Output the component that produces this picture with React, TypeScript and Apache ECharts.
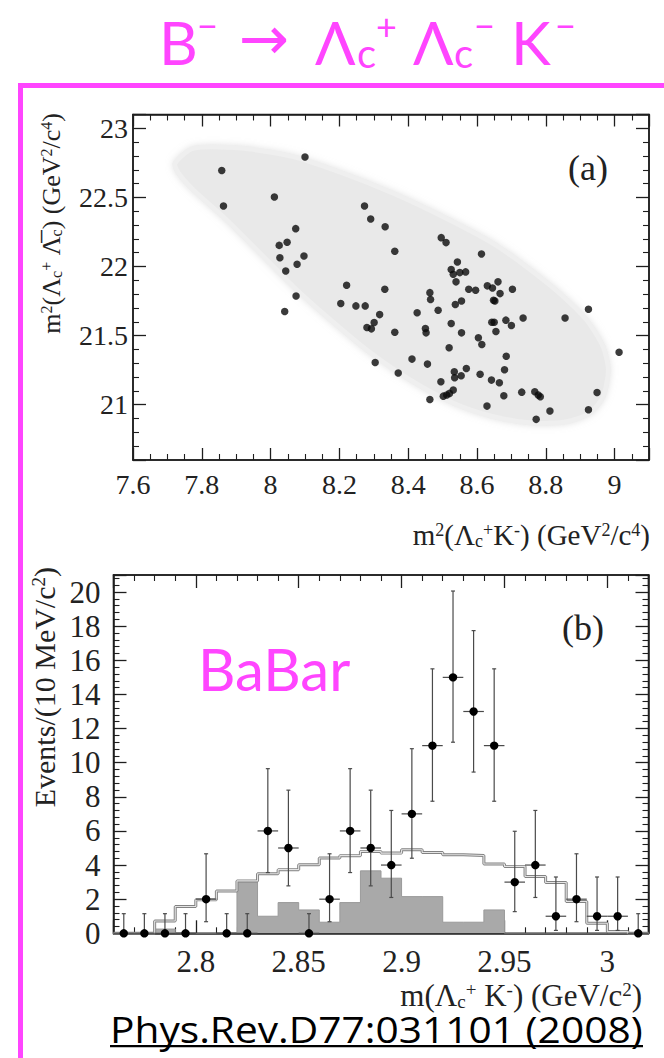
import React, { useEffect, useRef } from "react";
import * as echarts from "echarts";

// ---------------- Panel (a): Dalitz plot ----------------
const dalitzX = [7.858, 7.863, 8.100, 8.011, 8.273, 8.291, 8.333, 8.073, 8.025, 8.048, 8.027, 8.097, 8.077, 8.044, 8.074, 8.041, 8.361, 8.221, 8.332, 8.204, 8.248, 8.275, 8.317, 8.301, 8.280, 8.293, 8.361, 8.304, 8.371, 8.496, 8.510, 8.613, 8.543, 8.525, 8.567, 8.531, 8.550, 8.539, 8.576, 8.596, 8.630, 8.645, 8.661, 8.667, 8.703, 8.463, 8.465, 8.537, 8.555, 8.648, 8.652, 8.426, 8.487, 8.525, 8.643, 8.650, 8.684, 8.700, 8.734, 8.655, 8.450, 8.452, 8.555, 8.604, 8.614, 8.519, 8.411, 8.456, 8.685, 8.569, 8.534, 8.554, 8.535, 8.609, 8.680, 8.642, 8.665, 8.495, 8.531, 8.520, 8.502, 8.512, 8.678, 8.730, 8.768, 8.778, 8.784, 8.463, 8.629, 8.812, 8.772, 8.856, 8.924, 9.013, 8.949, 8.924];
const dalitzY = [22.695, 22.438, 22.792, 22.503, 22.438, 22.344, 22.288, 22.274, 22.153, 22.175, 22.064, 22.076, 22.016, 21.968, 21.787, 21.674, 22.110, 21.864, 21.836, 21.732, 21.715, 21.715, 21.652, 21.595, 21.559, 21.549, 21.525, 21.306, 21.229, 22.209, 22.173, 22.091, 22.033, 21.978, 21.961, 21.944, 21.956, 21.889, 21.836, 21.828, 21.860, 21.845, 21.889, 21.804, 21.836, 21.811, 21.761, 21.725, 21.751, 21.756, 21.751, 21.665, 21.684, 21.588, 21.597, 21.597, 21.612, 21.573, 21.628, 21.530, 21.551, 21.520, 21.520, 21.484, 21.436, 21.412, 21.330, 21.294, 21.351, 21.262, 21.238, 21.209, 21.195, 21.221, 21.253, 21.178, 21.159, 21.166, 21.106, 21.082, 21.062, 21.070, 21.065, 21.091, 21.094, 21.070, 21.058, 21.038, 20.990, 20.954, 20.894, 21.628, 21.691, 21.380, 21.089, 20.964];
// kinematic boundary (phase-space region, shaded)
const boundaryX = [7.722, 7.775, 7.921, 8.066, 8.211, 8.357, 8.502, 8.647, 8.744, 8.841, 8.919, 8.967, 8.982, 8.967, 8.928, 8.861, 8.764, 8.647, 8.531, 8.405, 8.279, 8.163, 8.066, 7.969, 7.872, 7.775, 7.732];
const boundaryY = [22.747, 22.855, 22.855, 22.795, 22.675, 22.530, 22.360, 22.168, 21.999, 21.806, 21.613, 21.420, 21.251, 21.058, 20.938, 20.877, 20.866, 20.913, 21.010, 21.179, 21.396, 21.637, 21.854, 22.096, 22.337, 22.554, 22.675];
const aXTicks = [7.6, 7.8, 8.0, 8.2, 8.4, 8.6, 8.8, 9.0];
const aYTicks = [21, 21.5, 22, 22.5, 23];

// ---------------- Panel (b): m(Lc+ K-) histogram ----------------
const binCenters = [2.765, 2.775, 2.785, 2.795, 2.805, 2.815, 2.825, 2.835, 2.845, 2.855, 2.865, 2.875, 2.885, 2.895, 2.905, 2.915, 2.925, 2.935, 2.945, 2.955, 2.965, 2.975, 2.985, 2.995, 3.005, 3.015];
const counts = [0, 0, 0, 0, 2, 0, 0, 6, 5, 0, 2, 6, 5, 4, 7, 11, 15, 13, 11, 3, 4, 1, 2, 1, 1, 0];
const errLower = [0, 0, 0, 0, 0.68, 0, 0, 3.56, 2.78, 0, 0.68, 3.56, 2.78, 2.1, 4.4, 7.74, 11.2, 9.45, 7.74, 1.27, 2.1, 0.17, 0.68, 0.17, 0.17, 0];
const errUpper = [1.15, 1.15, 1.15, 1.15, 4.66, 1.15, 1.15, 9.65, 8.39, 1.15, 4.66, 9.65, 8.39, 7.2, 10.82, 15.5, 20.06, 17.74, 15.5, 5.98, 7.2, 3.3, 4.66, 3.3, 3.3, 1.15];
const binEdges = [2.76, 2.77, 2.78, 2.79, 2.80, 2.81, 2.82, 2.83, 2.84, 2.85, 2.86, 2.87, 2.88, 2.89, 2.90, 2.91, 2.92, 2.93, 2.94, 2.95, 2.96, 2.97, 2.98, 2.99, 3.00, 3.01, 3.02];
const signalShape = [0, 0, 0.72, 1.57, 1.96, 2.48, 3.07, 3.49, 3.73, 4.02, 4.41, 4.55, 4.80, 4.70, 4.90, 4.74, 4.60, 4.56, 4.06, 3.92, 3.33, 2.98, 1.86, 0.59, 0.1, 0];
const backgroundShape = [0, 0, 0.25, 0, 0, 0, 3.07, 1.0, 1.8, 1.37, 0.65, 1.8, 3.66, 3.23, 2.15, 2.15, 0.65, 0.65, 1.37, 0, 0, 0, 0, 0, 0, 0];
const binHalfWidth = 0.005;
const bXTicks = [2.8, 2.85, 2.9, 2.95, 3.0];
const bYTicks = [0, 2, 4, 6, 8, 10, 12, 14, 16, 18, 20];

// ---------------- styling ----------------
const INK = "#222222";
const SERIF = "'Liberation Serif', 'DejaVu Serif', serif";
const SANS = "Lato, 'Open Sans', 'Noto Sans', sans-serif";
const MAGENTA = "#ff45ff";

const A_X: [number, number] = [7.6, 9.1];
const A_Y: [number, number] = [20.6, 23.1];
const B_X: [number, number] = [2.76, 3.02];
const B_Y: [number, number] = [0, 21];

const fmt = (v: number) => String(Math.round(v * 1000) / 1000);

// one frame side: inside major + minor ticks; labels only on bottom/left
function frameAxis(
  gridIndex: number,
  position: string,
  range: [number, number],
  interval: number | undefined,
  minorSplit: number,
  labelTicks: number[] | null,
  fontSize: number,
  margin: number,
  majorLen: number
) {
  const ax: any = {
    type: "value",
    gridIndex,
    position,
    min: range[0],
    max: range[1],
    splitNumber: 5,
    splitLine: { show: false },
    minorSplitLine: { show: false },
    axisLine: { show: true, onZero: false, lineStyle: { color: "#1e1e1e", width: 1.5 } },
    axisTick: { show: true, inside: true, length: majorLen, lineStyle: { color: "#1e1e1e", width: 1.3 } },
    minorTick: { show: true, splitNumber: minorSplit, length: 6, lineStyle: { color: "#1e1e1e", width: 1.1 } },
    axisLabel: labelTicks
      ? { show: true, customValues: labelTicks, formatter: fmt, color: INK, fontFamily: SERIF, fontSize, margin }
      : { show: false },
  };
  if (interval !== undefined) ax.interval = interval;
  return ax;
}

function richStyles(fs: number, fill: string, family: string) {
  return {
    n: { fontSize: fs, fontFamily: family, fill, lineHeight: fs },
    s: { fontSize: Math.round(fs * 0.62), fontFamily: family, fill, verticalAlign: "top", lineHeight: Math.round(fs * 0.45) },
    b: { fontSize: Math.round(fs * 0.62), fontFamily: family, fill, verticalAlign: "bottom", lineHeight: Math.round(fs * 0.45) },
  };
}

function plainText(x: number, y: number, text: string, fontSize: number, family: string, fill: string, align = "left", scaleX = 1) {
  return {
    type: "text",
    x,
    y,
    scaleX,
    style: { text, fontSize, fontFamily: family, fill, align, verticalAlign: "middle" },
  };
}

function richText(x: number, y: number, text: string, fs: number, align: string, rotation = 0) {
  return {
    type: "text",
    x,
    y,
    rotation,
    style: {
      text,
      rich: richStyles(fs, INK, SERIF),
      align,
      verticalAlign: "middle",
      fontSize: fs,
      fontFamily: SERIF,
      fill: INK,
    },
  };
}

function buildOption() {
  const xAxis = [
    frameAxis(0, "bottom", A_X, 0.2, 4, aXTicks, 28, 10, 12),
    frameAxis(0, "top", A_X, 0.2, 4, null, 0, 0, 12),
    frameAxis(1, "bottom", B_X, undefined, 5, bXTicks, 31, 13, 13),
    frameAxis(1, "top", B_X, undefined, 5, null, 0, 0, 13),
  ];
  const yAxis = [
    frameAxis(0, "left", A_Y, undefined, 5, aYTicks, 28, 5, 13),
    frameAxis(0, "right", A_Y, undefined, 5, null, 0, 0, 13),
    frameAxis(1, "left", B_Y, 2, 5, bYTicks, 31, 13, 13),
    frameAxis(1, "right", B_Y, 2, 5, null, 0, 0, 13),
  ];

  const stepData = (vals: number[]) =>
    binEdges.map((e, i) => [e, i < vals.length ? vals[i] : vals[vals.length - 1]]);

  const series: any[] = [
    {
      type: "custom",
      name: "phase space",
      xAxisIndex: 0,
      yAxisIndex: 0,
      silent: true,
      z: 1,
      data: boundaryX.map((x, i) => [x, boundaryY[i]]),
      renderItem: (params: any, api: any) => {
        if (params.dataIndex !== 0) return { type: "group", children: [] };
        return {
          type: "polygon",
          shape: { points: boundaryX.map((x, i) => api.coord([x, boundaryY[i]])), smooth: 0.25 },
          style: { fill: "#e9e9e9", stroke: "#efefef", lineWidth: 5, shadowBlur: 6, shadowColor: "rgba(200,200,200,0.5)" },
        };
      },
    },
    {
      type: "scatter",
      name: "events",
      xAxisIndex: 0,
      yAxisIndex: 0,
      z: 3,
      symbol: "circle",
      symbolSize: 7.5,
      itemStyle: { color: "#0a0a0a" },
      data: dalitzX.map((x, i) => [x, dalitzY[i]]),
    },
    // mirror axes need data to be non-blank
    {
      type: "scatter",
      name: "mirror a",
      xAxisIndex: 1,
      yAxisIndex: 1,
      symbolSize: 0,
      silent: true,
      itemStyle: { opacity: 0 },
      data: dalitzX.map((x, i) => [x, dalitzY[i]]),
    },
    {
      type: "line",
      name: "background",
      xAxisIndex: 2,
      yAxisIndex: 2,
      step: "end",
      symbol: "none",
      z: 2,
      lineStyle: { color: "#9a9a9a", width: 1 },
      areaStyle: { color: "#a9a9a9", opacity: 1 },
      data: stepData(backgroundShape),
    },
    {
      type: "line",
      name: "signal outline",
      xAxisIndex: 2,
      yAxisIndex: 2,
      step: "end",
      symbol: "none",
      z: 3,
      lineStyle: { color: "#828282", width: 3 },
      data: stepData(signalShape),
    },
    {
      type: "line",
      name: "signal inner",
      xAxisIndex: 2,
      yAxisIndex: 2,
      step: "end",
      symbol: "none",
      z: 3,
      lineStyle: { color: "#e4e4e4", width: 1.1 },
      data: stepData(signalShape),
    },
    {
      type: "scatter",
      name: "mirror b",
      xAxisIndex: 3,
      yAxisIndex: 3,
      symbolSize: 0,
      silent: true,
      itemStyle: { opacity: 0 },
      data: binCenters.map((c, i) => [c, counts[i]]),
    },
    {
      type: "custom",
      name: "data",
      xAxisIndex: 2,
      yAxisIndex: 2,
      z: 7,
      clip: false,
      data: binCenters.map((c, i) => [c, counts[i], errLower[i], errUpper[i]]),
      renderItem: (params: any, api: any) => {
        const x = api.value(0);
        const y = api.value(1);
        const p = api.coord([x, y]);
        const lo = api.coord([x, api.value(2)]);
        const hi = api.coord([x, api.value(3)]);
        const l = api.coord([x - binHalfWidth, y]);
        const r = api.coord([x + binHalfWidth, y]);
        const st = { stroke: "#4a4a4a", lineWidth: 1.2 };
        return {
          type: "group",
          children: [
            { type: "line", shape: { x1: p[0], y1: lo[1], x2: p[0], y2: hi[1] }, style: st },
            { type: "line", shape: { x1: p[0] - 2, y1: hi[1], x2: p[0] + 2, y2: hi[1] }, style: st },
            { type: "line", shape: { x1: p[0] - 2, y1: lo[1], x2: p[0] + 2, y2: lo[1] }, style: st },
            { type: "line", shape: { x1: l[0], y1: p[1], x2: r[0], y2: p[1] }, style: st },
            { type: "circle", shape: { cx: p[0], cy: p[1], r: 4.2 }, style: { fill: "#000" } },
          ],
        };
      },
    },
  ];

  const title = [
    plainText(159, 42, "B", 60, SANS, MAGENTA),
    plainText(197, 25, "\u2212", 36, SANS, MAGENTA),
    plainText(239, 38, "\u2192", 60, "'DejaVu Sans', sans-serif", MAGENTA),
    plainText(315, 42, "\u039B", 60, SANS, MAGENTA),
    plainText(357, 53, "c", 40, SANS, MAGENTA),
    plainText(376, 26, "+", 36, SANS, MAGENTA),
    plainText(413, 42, "\u039B", 60, SANS, MAGENTA),
    plainText(454, 53, "c", 40, SANS, MAGENTA),
    plainText(474, 25, "\u2212", 36, SANS, MAGENTA),
    plainText(511, 42, "K", 60, SANS, MAGENTA),
    plainText(555, 25, "\u2212", 36, SANS, MAGENTA),
  ];

  const graphic: any[] = [
    { type: "rect", shape: { x: 18, y: 83, width: 646, height: 5 }, style: { fill: MAGENTA } },
    { type: "rect", shape: { x: 18, y: 83, width: 5, height: 975 }, style: { fill: MAGENTA } },
    ...title,
    plainText(198, 668, "BaBar", 58, SANS, MAGENTA),
    plainText(568, 168, "(a)", 36, SERIF, INK),
    plainText(562, 628, "(b)", 36, SERIF, INK),
    richText(650, 535, "{n|m}{s|2}{n|(Λ}{b|c}{s|+}{n|K}{s|-}{n|) (GeV}{s|2}{n|/c}{s|4}{n|)}", 29, "right"),
    richText(51, 113, "{n|m}{s|2}{n|(Λ}{b|c}{s|+}{n| Λ\u0305}{b|c}{n|) (GeV}{s|2}{n|/c}{s|4}{n|)}", 26, "right", Math.PI / 2),
    richText(642, 995, "{n|m(Λ}{b|c}{s|+}{n| K}{s|-}{n|) (GeV/c}{s|2}{n|)}", 31, "right"),
    richText(44, 567, "{n|Events/(10 MeV/c}{s|2}{n|)}", 30, "right", Math.PI / 2),
    plainText(110, 1029, "Phys.Rev.D77:031101 (2008)", 36, "'Open Sans', Lato, sans-serif", "#000", "left", 1.13),
    { type: "rect", shape: { x: 110, y: 1045, width: 533, height: 2.2 }, style: { fill: "#000" } },
  ];

  return {
    animation: false,
    backgroundColor: "#ffffff",
    grid: [
      { left: 133, top: 114.5, width: 516, height: 345.5, show: true, borderColor: "#1e1e1e", borderWidth: 1.5, backgroundColor: "transparent" },
      { left: 113.5, top: 575, width: 535, height: 358.3, show: true, borderColor: "#1e1e1e", borderWidth: 1.5, backgroundColor: "transparent" },
    ],
    xAxis,
    yAxis,
    series,
    graphic,
  };
}

export default function App() {
  const ref = useRef<HTMLDivElement>(null);
  useEffect(() => {
    if (!ref.current) return;
    const chart = echarts.init(ref.current, null, { renderer: "svg" });
    chart.setOption(buildOption() as any);
    return () => chart.dispose();
  }, []);
  return (
    <div
      ref={ref}
      style={{ position: "absolute", left: 0, top: 0, width: 664, height: 1058, background: "#fff" }}
    />
  );
}
